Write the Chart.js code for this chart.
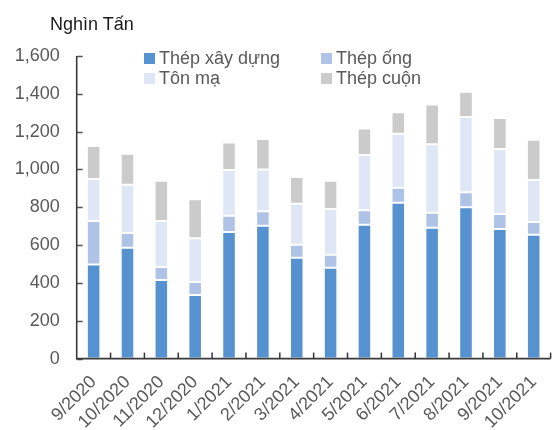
<!DOCTYPE html>
<html>
<head>
<meta charset="utf-8">
<script src="https://cdn.jsdelivr.net/npm/chart.js@4/dist/chart.umd.min.js"></script>
<style>
  html, body { margin: 0; padding: 0; overflow: hidden; background: #fff; width: 554px; height: 430px; }
  #wrap { position: relative; width: 562px; height: 430px; }
  #title { position: absolute; left: 50px; top: 15px; font: 18px "Liberation Sans", Arial, sans-serif; line-height: 18px; color: #1a1a1a; white-space: nowrap; }
  .lg { position: absolute; font: 18px "Liberation Sans", Arial, sans-serif; line-height: 18px; color: #595959; white-space: nowrap; }
  .sw { position: absolute; width: 11px; height: 11px; }
</style>
</head>
<body>
<div id="wrap">
  <canvas id="c" width="562" height="430"></canvas>
  <div id="title">Nghìn Tấn</div>
  <div id="legend"></div>
</div>
<script>
const categories = ['9/2020','10/2020','11/2020','12/2020','1/2021','2/2021','3/2021','4/2021','5/2021','6/2021','7/2021','8/2021','9/2021','10/2021'];
const thepXayDung = [497, 586, 415, 336, 669, 703, 533, 481, 708, 824, 692, 800, 685, 655];
const thepOng     = [230,  78,  69,  69,  86,  76,  69,  68,  77,  79,  79,  79,  79,  67];
const tonMa       = [222, 255, 243, 231, 242, 221, 217, 242, 291, 286, 363, 398, 344, 222];
const thepCuon    = [175, 164, 213, 206, 146, 161, 141, 149, 141, 114, 210, 134, 164, 213];
const seriesNames = ['Thép xây dựng', 'Thép ống', 'Tôn mạ', 'Thép cuộn'];
const yTicks = [0, 200, 400, 600, 800, 1000, 1200, 1400, 1600];

const colors = ['#5592CF', '#AEC3E6', '#DFE7F6', '#CBCBCB'];
const seriesData = [thepXayDung, thepOng, tonMa, thepCuon];

const FONT = '"Liberation Sans", Arial, sans-serif';

const innerTicks = {
  id: 'innerTicks',
  afterDraw(chart) {
    const ctx = chart.ctx;
    const x = chart.scales.x, y = chart.scales.y;
    const a = chart.chartArea;
    ctx.save();
    ctx.lineWidth = 1.5;
    ctx.strokeStyle = '#555555';
    y.ticks.forEach((t, i) => {
      const py = Math.round(y.getPixelForTick(i)) + 0.5;
      ctx.beginPath(); ctx.moveTo(a.left, py); ctx.lineTo(a.left + 6, py); ctx.stroke();
    });
    ctx.strokeStyle = '#333333';
    for (let i = 0; i < categories.length; i++) {
      const px = i < categories.length - 1
        ? (x.getPixelForValue(i) + x.getPixelForValue(i + 1)) / 2
        : a.right;
      ctx.beginPath(); ctx.moveTo(px, a.bottom); ctx.lineTo(px, a.bottom - 6); ctx.stroke();
    }
    ctx.strokeStyle = '#3a3a3a';
    ctx.lineWidth = 1.6;
    ctx.beginPath(); ctx.moveTo(a.left, a.top); ctx.lineTo(a.left, a.bottom); ctx.lineTo(a.right, a.bottom); ctx.stroke();
    ctx.restore();
  }
};

const chart = new Chart(document.getElementById('c'), {
  type: 'bar',
  data: {
    labels: categories,
    datasets: seriesData.map((d, i) => ({
      label: seriesNames[i],
      data: d,
      backgroundColor: colors[i],
      borderColor: 'rgba(255,255,255,0.55)',
      borderWidth: 1,
      borderSkipped: false,
      categoryPercentage: 1.0,
      barPercentage: 0.4
    }))
  },
  options: {
    responsive: false,
    animation: false,
    devicePixelRatio: 1,
    layout: { padding: { top: 56, right: 1, left: 0, bottom: 0 } },
    plugins: { legend: { display: false }, tooltip: { enabled: false }, title: { display: false } },
    scales: {
      x: {
        stacked: true,
        offset: true,
        grid: { display: false, offset: true, drawTicks: false },
        border: { display: false },
        ticks: {
          color: '#595959',
          font: { family: FONT, size: 18 },
          minRotation: 45, maxRotation: 45,
          padding: 13,
          autoSkip: false
        },
        afterFit(s) { s.height = 71.4; }
      },
      y: {
        stacked: true,
        min: 0, max: 1600,
        afterBuildTicks(s) { s.ticks = yTicks.map(v => ({ value: v })); },
        grid: { display: false, drawTicks: false },
        border: { display: false },
        ticks: {
          color: '#595959',
          font: { family: FONT, size: 18 },
          padding: 17,
          callback: v => Number(v).toLocaleString('en-US')
        },
        afterFit(s) { s.width = 76.7; }
      }
    }
  },
  plugins: [innerTicks]
});

const legendPos = [[144, 53], [321, 53], [144, 73], [321, 73]];
const lg = document.getElementById('legend');
chart.data.datasets.forEach((ds, i) => {
  const [lx, ly] = legendPos[i];
  const sw = document.createElement('div');
  sw.className = 'sw';
  sw.style.left = lx + 'px'; sw.style.top = ly + 'px';
  sw.style.background = ds.backgroundColor;
  lg.appendChild(sw);
  const t = document.createElement('div');
  t.className = 'lg';
  t.style.left = (lx + 15) + 'px'; t.style.top = (ly - 4) + 'px';
  t.textContent = ds.label;
  lg.appendChild(t);
});
</script>
</body>
</html>
